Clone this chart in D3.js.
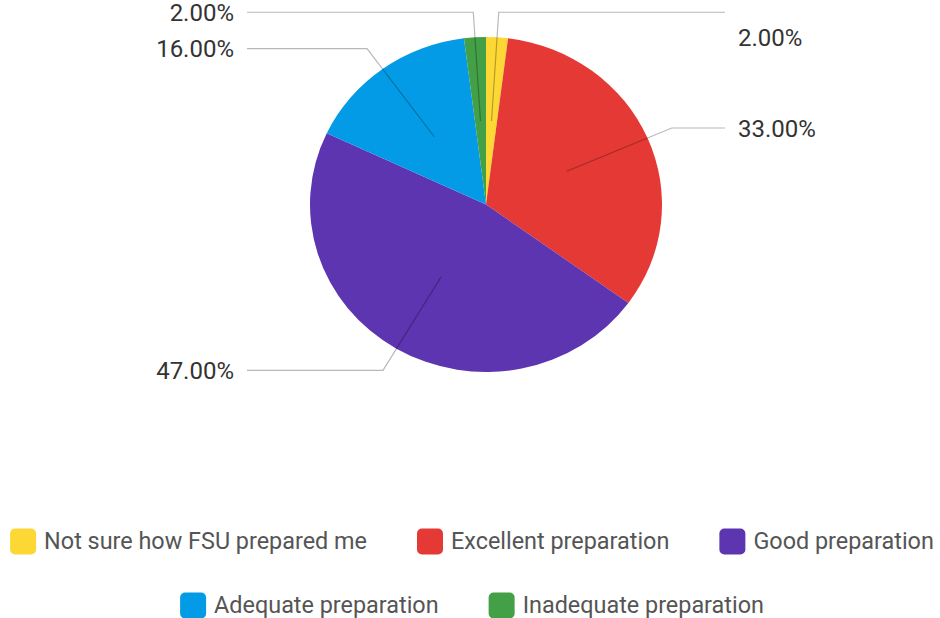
<!DOCTYPE html>
<html>
<head>
<meta charset="utf-8">
<script src="https://cdn.jsdelivr.net/npm/d3@7"></script>
<style>
  body { margin: 0; background: #fff; }
  text { font-family: Roboto, "Noto Sans", sans-serif; }
</style>
</head>
<body>
<svg id="chart" width="940" height="618"></svg>
<script>
// Responses, in the order the slices run clockwise from 12 o'clock
const categories = ["Not sure how FSU prepared me", "Excellent preparation", "Good preparation", "Adequate preparation", "Inadequate preparation"];
const percents = [2, 33, 47, 16, 2];
const colors = ["#FDD835", "#E53935", "#5E35B1", "#039BE5", "#43A047"];

const width = 940, height = 618;
const cx = 486, cy = 204.5;
const rx = 176, ry = 167.5; // picture is a bit squashed vertically
const fontSize = 24, legendFont = 23.4;

const svg = d3.select("#chart");

const data = categories.map((c, i) => ({ name: c, value: percents[i], color: colors[i] }));

const pie = d3.pie().sort(null).value(d => d.value);
const arcs = pie(data);
const arc = d3.arc().innerRadius(0).outerRadius(rx);

// slices
svg.append("g")
    .attr("transform", `translate(${cx},${cy}) scale(1,${ry / rx})`)
    .selectAll("path")
    .data(arcs)
    .enter().append("path")
    .attr("d", arc)
    .attr("fill", d => d.data.color);

// point on the (squashed) pie at angle a and fraction k of the radius
function pt(a, k) {
    return [cx + Math.sin(a) * rx * k, cy - Math.cos(a) * ry * k];
}

const fmt = d3.format(".2f");
const labels = svg.append("g");

arcs.forEach((d, i) => {
    const mid = (d.startAngle + d.endAngle) / 2;
    const p0 = pt(mid, 0.5);
    const p1 = pt(mid, 1.15);
    const right = Math.sin(mid) >= 0;
    const xEnd = right ? cx + 239 : cx - 239;

    labels.append("polyline")
        .attr("points", [p0, p1, [xEnd, p1[1]]].map(p => p.join(",")).join(" "))
        .attr("fill", "none")
        .attr("stroke", "rgba(0,0,0,0.28)")
        .attr("stroke-width", 1.2);

    // the top right label sits one line lower, clear of its leader
    let ly = p1[1];
    if (right && ly < 25) ly += 25;

    labels.append("text")
        .attr("x", right ? xEnd + 13 : xEnd - 13)
        .attr("y", ly)
        .attr("dy", "0.36em")
        .attr("text-anchor", right ? "start" : "end")
        .attr("font-size", fontSize)
        .attr("fill", "#333")
        .text(fmt(d.data.value) + "%");
});

// legend, wrapped into centred rows
const sw = 26, gapText = 8, gapItem = 50, rowY0 = 541.5, rowStep = 64;
const legend = svg.append("g");
const items = data.map(d => {
    const g = legend.append("g");
    g.append("rect")
        .attr("width", sw).attr("height", sw)
        .attr("y", -sw / 2)
        .attr("rx", 5)
        .attr("fill", d.color);
    const t = g.append("text")
        .attr("x", sw + gapText)
        .attr("dy", "0.34em")
        .attr("font-size", legendFont)
        .attr("fill", "#555")
        .text(d.name);
    return { g, w: sw + gapText + t.node().getComputedTextLength() };
});

const rows = [];
let cur = [], curW = 0;
items.forEach(it => {
    const add = cur.length ? gapItem + it.w : it.w;
    if (cur.length && curW + add > width - 4) {
        rows.push({ items: cur, w: curW });
        cur = [it]; curW = it.w;
    } else {
        cur.push(it); curW += add;
    }
});
rows.push({ items: cur, w: curW });

rows.forEach((r, ri) => {
    let x = 472 - r.w / 2;
    r.items.forEach(it => {
        it.g.attr("transform", `translate(${x},${rowY0 + ri * rowStep})`);
        x += it.w + gapItem;
    });
});
</script>
</body>
</html>
